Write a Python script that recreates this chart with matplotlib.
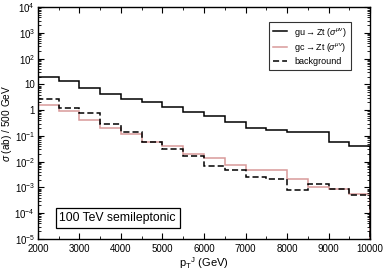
import numpy as np
import matplotlib
matplotlib.use('Agg')
from matplotlib import pyplot as plt
from matplotlib.ticker import LogLocator, MultipleLocator

plt.rcParams['font.family'] = ['Liberation Sans', 'DejaVu Sans']
plt.rcParams['mathtext.fontset'] = 'custom'
plt.rcParams['mathtext.rm'] = 'Liberation Sans'
plt.rcParams['mathtext.it'] = 'Liberation Sans:italic'
plt.rcParams['mathtext.sf'] = 'Liberation Sans'

# bin edges in pT (GeV)
edges = np.arange(2000, 10001, 500)

gu_zt = [19, 13.5, 7.5, 4.2, 2.6, 2.1, 1.3, 0.83, 0.58, 0.34,
         0.21, 0.17, 0.14, 0.14, 0.06, 0.039]
gc_zt = [1.6, 0.92, 0.41, 0.21, 0.12, 0.06, 0.042, 0.019, 0.014, 0.0077,
         0.0049, 0.0046, 0.0021, 0.001, 0.0009, 0.00055]
background = [2.6, 1.2, 0.75, 0.28, 0.14, 0.06, 0.031, 0.017, 0.007, 0.0049,
              0.0025, 0.0022, 0.00076, 0.0013, 0.0009, 0.0005]

labels = [r'gu$\rightarrow$Zt ($\sigma^{\mu\nu}$)',
          r'gc$\rightarrow$Zt ($\sigma^{\mu\nu}$)',
          'background']

fig = plt.figure(figsize=(3.86, 2.73), dpi=100)
ax = fig.add_axes([0.098, 0.125, 0.861, 0.849])

ax.stairs(gu_zt, edges, color='black', lw=1.1, label=labels[0])
ax.stairs(gc_zt, edges, color='#d99a9a', lw=1.1, label=labels[1])
ax.stairs(background, edges, color='black', lw=1.1, ls=(0, (4, 2)), label=labels[2])

ax.set_yscale('log')
ax.set_xlim(2000, 10000)
ax.set_ylim(1e-5, 1e4)
ax.xaxis.set_major_locator(MultipleLocator(1000))
ax.xaxis.set_minor_locator(MultipleLocator(500))
ax.yaxis.set_major_locator(LogLocator(base=10, numticks=20))
ax.yaxis.set_minor_locator(LogLocator(base=10, subs=np.arange(2, 10), numticks=20))

def ylab(v, pos):
    e = int(round(np.log10(v)))
    if e == 0:
        return '1'
    if e == 1:
        return '10'
    return r'10$^{%d}$' % e

ax.yaxis.set_major_formatter(plt.FuncFormatter(ylab))
ax.tick_params(which='both', direction='in', top=True, right=True, labelsize=7)
ax.tick_params(axis='y', pad=2)
ax.tick_params(which='major', length=4, width=0.8)
ax.tick_params(which='minor', length=2, width=0.6)
for s in ax.spines.values():
    s.set_linewidth(1.0)

ax.set_xlabel(r'p$_\mathrm{T}$$^{\mathrm{ J}}$ (GeV)', fontsize=8, labelpad=1)
ax.set_ylabel(r'$\sigma$ (ab) / 500 GeV', fontsize=7.3)
ax.yaxis.set_label_coords(-0.073, 0.5)

leg = ax.legend(loc='upper right', bbox_to_anchor=(0.955, 0.955), fontsize=6.5,
                frameon=True, fancybox=False, edgecolor='black', handlelength=1.6,
                borderpad=0.4, labelspacing=0.3, handletextpad=0.8)
leg.get_frame().set_linewidth(0.8)

ax.text(0.065, 0.09, '100 TeV semileptonic', transform=ax.transAxes, fontsize=8.8,
        va='center', ha='left',
        bbox=dict(boxstyle='square,pad=0.3', fc='white', ec='black', lw=0.9))

fig.savefig('out.png', dpi=100)
